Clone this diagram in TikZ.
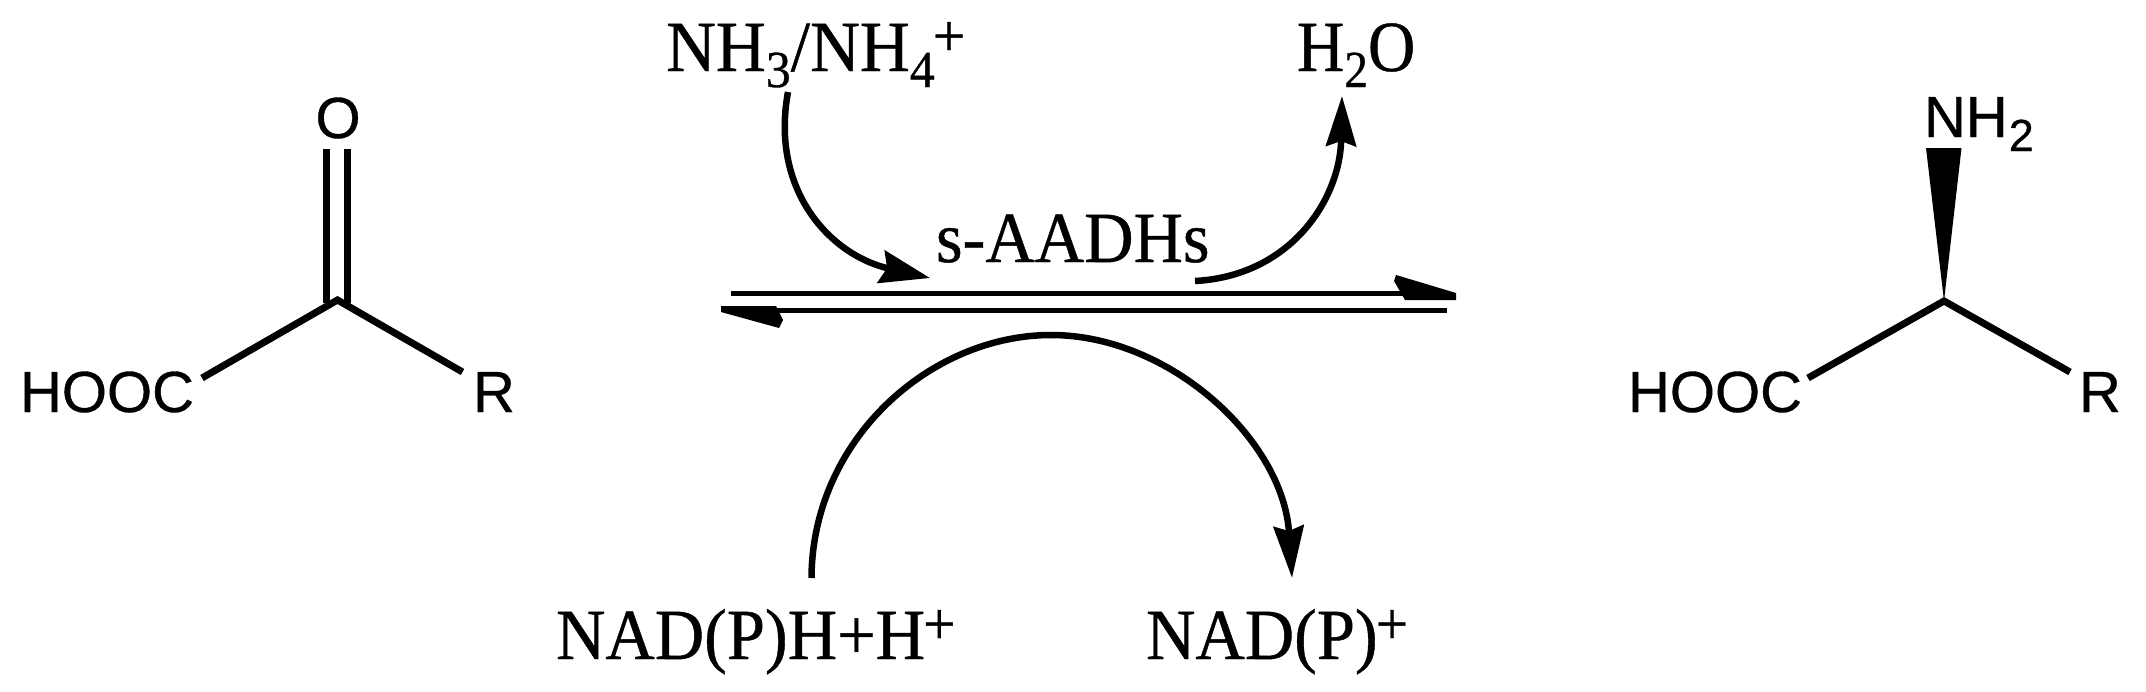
\documentclass[tikz,border=0pt]{standalone}
\usepackage{fontspec}
\setmainfont[FakeBold=0.6]{Liberation Serif}
\newfontfamily\arialfont[FakeBold=0.6]{Liberation Sans}
\usetikzlibrary{arrows.meta}
\newcommand{\serifsize}{\fontsize{72}{80}\selectfont}
\newcommand{\subsz}[1]{\raisebox{-16pt}{\fontsize{52}{56}\selectfont #1}}
\newcommand{\supsz}[1]{\kern-2pt\raisebox{15pt}{\fontsize{60}{64}\selectfont #1}}
\newcommand{\narrow}[1]{\scalebox{0.96}[1]{#1}}
\tikzset{
  serif/.style={inner sep=0pt,outer sep=0pt,anchor=base west,font=\serifsize},
  atom/.style={inner sep=0pt,outer sep=0pt,anchor=base west,font=\arialfont\fontsize{58}{62}\selectfont},
  bond/.style={line width=7pt,line cap=butt,line join=miter},
  rxnline/.style={line width=5.5pt,line cap=butt},
  curve/.style={line width=6.5pt,line cap=butt},
  halfhead/.style={fill=black,draw=none},
  wedge/.style={fill=black,draw=none}
}
\begin{document}
\begin{tikzpicture}[x=1pt,y=-1pt]
\useasboundingbox (0,0) rectangle (2146,691);
% --- left molecule
\node[atom] (oxy) at (315.5,138) {O};
\node[atom] (hoocL) at (20,412) {HOOC};
\node[atom] (rL) at (473,412) {R};
\coordinate (cL) at (337.5,300);
\coordinate (bHL) at (202,378);
\coordinate (bRL) at (462.5,372);
\coordinate (dbA1) at (326,149);
\coordinate (dbA2) at (326,303);
\coordinate (dbB1) at (347.5,149);
\coordinate (dbB2) at (347.5,303);
\draw[bond] (bHL) -- (cL) -- (bRL);
\draw[bond] (dbA1) -- (dbA2);
\draw[bond] (dbB1) -- (dbB2);
% --- right molecule
\node[atom] (nh2) at (1924,137) {NH\kern1pt\raisebox{-14pt}{\fontsize{45}{48}\selectfont 2}};
\node[atom] (hoocR) at (1628,412) {HOOC};
\node[atom] (rR) at (2079,412) {R};
\coordinate (cR) at (1944,301);
\coordinate (bHR) at (1808,378);
\coordinate (bRR) at (2070,372);
\coordinate (wA) at (1926,148);
\coordinate (wB) at (1961.5,148);
\draw[bond] (bHR) -- (cR) -- (bRR);
\fill[wedge] (wA) -- (wB) -- (cR) -- cycle;
% --- labels
\node[serif] (nh3) at (666,71) {\narrow{NH\subsz{3}/NH\subsz{4}\supsz{+}}};
\node[serif] (h2o) at (1297,71) {\scalebox{0.91}[1]{H\subsz{2}O}};
\node[serif] (enz) at (936,262) {\scalebox{0.95}[1]{s-AADHs}};
\node[serif] (nadh) at (556,659) {\scalebox{0.95}[1]{NAD(P)H+H\supsz{+}}};
\node[serif] (nadp) at (1146,659) {\scalebox{0.95}[1]{NAD(P)\supsz{+}}};
% --- equilibrium arrows
\coordinate (upS) at (730.5,293.5);
\coordinate (upE) at (1420,293.5);
\coordinate (loS) at (1447,310.5);
\coordinate (loE) at (770,310.5);
\draw[rxnline] (upS) -- (upE);
\draw[rxnline] (loS) -- (loE);
\fill[halfhead] (1396,275) -- (1456,293) -- (1456,300) -- (1405,300) -- (1394,281) -- cycle;
\fill[halfhead] (721,306) -- (776,306) -- (783,320) -- (779,328) -- (721,312) -- cycle;
% --- curved arrows
\coordinate (a1S) at (788,92);
\coordinate (a1E) at (930,278);
\coordinate (a2S) at (1195,281);
\coordinate (a2E) at (1342,96);
\coordinate (a3S) at (811.5,578);
\coordinate (a3T) at (1051,335);
\coordinate (a3E) at (1292,578);
\draw[curve,-{Stealth[length=50pt,width=33pt,inset=6pt]}] (a1S) .. controls (770,190) and (830,255) .. (a1E);
\draw[curve,-{Stealth[length=50pt,width=30pt,inset=5pt]}] (a2S) .. controls (1290,276) and (1340,200) .. (a2E);
\draw[curve,-{Stealth[length=52pt,width=30pt,inset=5pt]}] (a3S) .. controls (812,440) and (930,335) .. (a3T) .. controls (1170,335) and (1283,440) .. (a3E);
\end{tikzpicture}
\end{document}
